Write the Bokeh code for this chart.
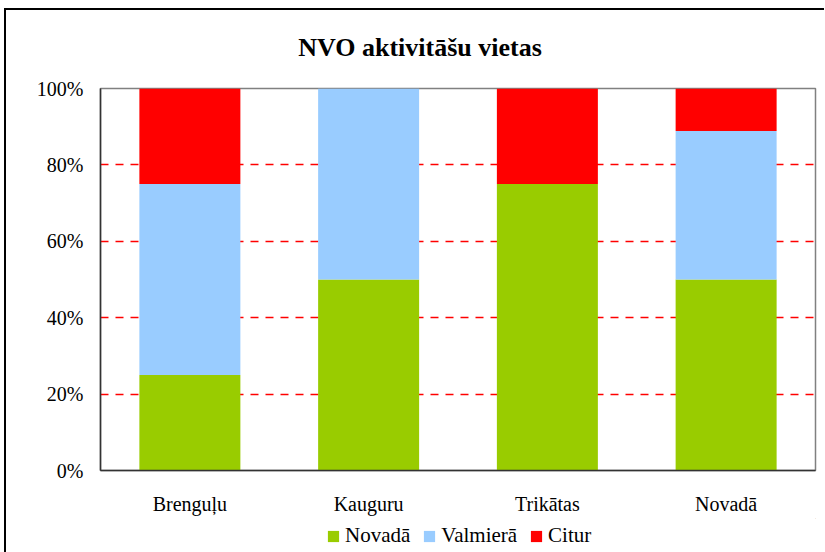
from bokeh.plotting import figure
from bokeh.layouts import column
from bokeh.models import (FactorRange, Range1d, FixedTicker, NumeralTickFormatter,
                          Legend, LegendItem, Label)
from bokeh.embed import file_html
from bokeh.resources import INLINE

categories = ["Brenguļu", "Kauguru", "Trikātas", "Novadā"]
series = ["Novadā", "Valmierā", "Citur"]
novada = [0.25, 0.50, 0.75, 0.50]
valmiera = [0.50, 0.50, 0.00, 0.389]
citur = [0.25, 0.00, 0.25, 0.111]
colors = ["#99CC00", "#99CCFF", "#FF0000"]
y_ticks = [0, 0.2, 0.4, 0.6, 0.8, 1.0]
title_text = "NVO aktivitāšu vietas"

FONT = "Liberation Serif"
W = 818

data = {"cat": categories, "Novadā": novada, "Valmierā": valmiera, "Citur": citur}

# title strip (its frame aligns horizontally with the chart frame in the column)
tf = figure(width=W, height=66, output_backend="svg", toolbar_location=None,
            x_range=Range1d(0, 715), y_range=Range1d(0, 66),
            x_axis_location=None, y_axis_location=None,
            min_border_left=0, min_border_right=0, min_border_top=0, min_border_bottom=0)
tf.outline_line_color = None
tf.grid.grid_line_color = None
tf.add_layout(Label(x=319.5, y=29, text=title_text, text_font=FONT, text_font_size="26px",
                    text_font_style="bold", text_align="center", text_baseline="alphabetic",
                    text_color="#000000"))

p = figure(x_range=FactorRange(*categories, range_padding=0), y_range=Range1d(0, 1),
           width=W, height=442, output_backend="svg", toolbar_location=None,
           min_border_left=94, min_border_right=9, min_border_top=12, min_border_bottom=48)

p.vbar_stack(series, x="cat", width=0.565, color=colors, source=data, line_color=None)

p.outline_line_color = "#808080"
p.outline_line_width = 1.5

p.xgrid.grid_line_color = None
p.ygrid.grid_line_color = "#FF0000"
p.ygrid.grid_line_dash = "8 7"
p.ygrid.grid_line_width = 1.5
p.ygrid.ticker = FixedTicker(ticks=[0.2, 0.4, 0.6, 0.8])

p.yaxis.ticker = FixedTicker(ticks=y_ticks)
p.yaxis.formatter = NumeralTickFormatter(format="0%")
for ax in (p.xaxis, p.yaxis):
    ax.major_tick_out = 0
    ax.major_tick_in = 0
    ax.minor_tick_out = 0
    ax.minor_tick_in = 0
    ax.axis_line_color = "#333333"
    ax.axis_line_width = 1.5
    ax.major_label_text_font = FONT
    ax.major_label_text_font_size = "20px"
    ax.major_label_text_color = "#000000"
p.yaxis.major_label_standoff = 17
p.xaxis.major_label_standoff = 22

# legend strip below the chart
lg = figure(width=W, height=34, output_backend="svg", toolbar_location=None,
            x_range=Range1d(0, 1), y_range=Range1d(0, 1),
            x_axis_location=None, y_axis_location=None,
            min_border_left=0, min_border_right=0, min_border_top=0, min_border_bottom=0)
lg.outline_line_color = None
lg.grid.grid_line_color = None
# swatch renderers hold one point placed outside the visible range (legend icons only)
swatches = [lg.vbar(x=[5], top=[5], bottom=[4], width=0.1, color=c, line_color=None)
            for c in colors]
legend = Legend(items=[LegendItem(label=s, renderers=[r]) for s, r in zip(series, swatches)],
                orientation="horizontal", location=(226, 4),
                label_text_font=FONT, label_text_font_size="21px", label_text_color="#000000",
                glyph_width=14, glyph_height=14, label_standoff=5, spacing=12,
                padding=0, margin=0, border_line_color=None, background_fill_alpha=0)
lg.add_layout(legend, "center")

layout = column(tf, p, lg, spacing=0)
layout.styles = {"border-left": "2px solid #000000", "border-top": "2px solid #000000",
                 "margin-left": "4px", "margin-top": "8px"}

open("out.html", "w").write(file_html(layout, INLINE))
